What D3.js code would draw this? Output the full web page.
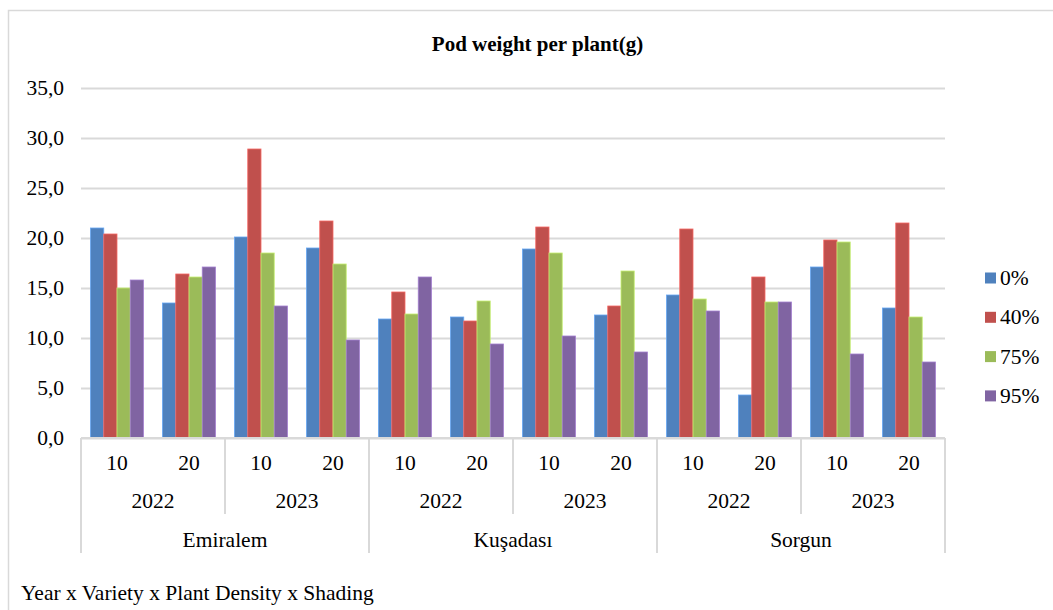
<!DOCTYPE html>
<html>
<head>
<meta charset="utf-8">
<script src="https://cdn.jsdelivr.net/npm/d3@7"></script>
<style>
  html, body { margin: 0; padding: 0; background: #fff; }
  svg { display: block; }
  svg text { font-family: "Liberation Serif", "Times New Roman", serif; }
</style>
</head>
<body>
<svg id="chart" width="1053" height="610" font-family="Liberation Serif, Times New Roman, serif"></svg>
<script>
// Category levels (outermost first)
const locations = ["Emiralem", "Kuşadası", "Sorgun"];
const years = ["2022", "2023"];
const densities = ["10", "20"];

// Shading treatments (series)
const shading = ["0%", "40%", "75%", "95%"];
const colors = ["#4F81BD", "#C0504D", "#9BBB59", "#8064A2"];

// Pod weight per plant (g), one value per location x year x density cluster
const shade0  = [21.0, 13.5, 20.1, 19.0, 11.9, 12.1, 18.9, 12.3, 14.3, 4.3, 17.1, 13.0];
const shade40 = [20.4, 16.4, 28.9, 21.7, 14.6, 11.7, 21.1, 13.2, 20.9, 16.1, 19.8, 21.5];
const shade75 = [15.0, 16.1, 18.5, 17.4, 12.4, 13.7, 18.5, 16.7, 13.9, 13.6, 19.6, 12.1];
const shade95 = [15.8, 17.1, 13.2, 9.8, 16.1, 9.4, 10.2, 8.6, 12.7, 13.6, 8.4, 7.6];
const series = [shade0, shade40, shade75, shade95];

const yTicks = [0, 5, 10, 15, 20, 25, 30, 35];

const FONT = "Liberation Serif, Times New Roman, serif";
const FS = 21.5;
const svg = d3.select("#chart");
const plot = { left: 81, right: 945, top: 88, bottom: 438 };
const gridColor = "#d9d9d9";

// Outer frame
svg.append("rect")
  .attr("x", 8.5).attr("y", 10.5)
  .attr("width", 1100).attr("height", 700)
  .attr("fill", "none").attr("stroke", gridColor).attr("stroke-width", 1.5);

// Title
svg.append("text")
  .attr("x", 537.5).attr("y", 51)
  .attr("text-anchor", "middle")
  .attr("font-family", FONT)
  .attr("font-size", 21).attr("font-weight", "bold")
  .text("Pod weight per plant(g)");

// Build flat list of clusters
const clusters = [];
locations.forEach(l => years.forEach(y => densities.forEach(d => clusters.push({ loc: l, year: y, dens: d, key: l + "|" + y + "|" + d }))));

const x = d3.scaleBand().domain(clusters.map(c => c.key)).range([plot.left, plot.right]).padding(0);
const xBar = d3.scaleBand().domain(shading).range([0, x.bandwidth()]).paddingInner(0).paddingOuter(0.72);
const y = d3.scaleLinear().domain([0, 35]).range([plot.bottom, plot.top]);

// Gridlines + y labels
const yAxis = d3.axisLeft(y).tickValues(yTicks)
  .tickSize(-(plot.right - plot.left)).tickPadding(17)
  .tickFormat(d => d3.format(".1f")(d).replace(".", ","));
const gy = svg.append("g").attr("transform", `translate(${plot.left},0)`).call(yAxis);
gy.attr("font-family", FONT);
gy.select(".domain").remove();
gy.selectAll(".tick line").attr("stroke", gridColor).attr("stroke-width", 2);
gy.selectAll(".tick text").attr("font-size", FS).attr("fill", "#000");

// Bars
series.forEach((vals, si) => {
  const base = d3.color(colors[si]);
  svg.append("g").selectAll("rect")
    .data(vals.map((v, i) => ({ v, c: clusters[i] })))
    .join("rect")
    .attr("x", d => x(d.c.key) + xBar(shading[si]))
    .attr("y", d => y(d.v))
    .attr("width", xBar.bandwidth())
    .attr("height", d => y(0) - y(d.v))
    .attr("fill", colors[si])
    .attr("stroke", base.brighter(0.7))
    .attr("stroke-width", 0.8);
});

// Category axis baseline
svg.append("line")
  .attr("x1", plot.left).attr("x2", plot.right)
  .attr("y1", plot.bottom).attr("y2", plot.bottom)
  .attr("stroke", gridColor).attr("stroke-width", 2);

// Multi-level category separators
const yearW = x.bandwidth() * densities.length;
const locW = yearW * years.length;
const sepG = svg.append("g").attr("stroke", gridColor).attr("stroke-width", 2);
d3.range(locations.length + 1).forEach(i => {
  const xx = plot.left + i * locW;
  sepG.append("line").attr("x1", xx).attr("x2", xx).attr("y1", plot.bottom).attr("y2", 553);
});
d3.range(locations.length).forEach(i => {
  const xx = plot.left + i * locW + yearW;
  sepG.append("line").attr("x1", xx).attr("x2", xx).attr("y1", plot.bottom).attr("y2", 514);
});

// Category labels
const lab = svg.append("g").attr("font-family", FONT).attr("font-size", FS)
  .attr("text-anchor", "middle").attr("dominant-baseline", "central");
clusters.forEach(c => {
  lab.append("text").attr("x", x(c.key) + x.bandwidth() / 2).attr("y", 463).text(c.dens);
});
locations.forEach((l, li) => {
  years.forEach((yr, yi) => {
    lab.append("text").attr("x", plot.left + li * locW + yi * yearW + yearW / 2).attr("y", 501).text(yr);
  });
  lab.append("text").attr("x", plot.left + li * locW + locW / 2).attr("y", 540).text(l);
});

// Footer caption
svg.append("text")
  .attr("x", 21).attr("y", 593)
  .attr("font-family", FONT)
  .attr("font-size", FS).attr("dominant-baseline", "central")
  .text("Year x Variety x Plant Density x Shading");

// Legend
const legend = svg.append("g").attr("font-family", FONT);
shading.forEach((s, i) => {
  const cy = 278 + i * 39.3;
  legend.append("rect").attr("x", 985).attr("y", cy - 5.5).attr("width", 11).attr("height", 11).attr("fill", colors[i]);
  legend.append("text").attr("x", 1000).attr("y", cy).attr("font-size", FS)
    .attr("dominant-baseline", "central").text(s);
});
</script>
</body>
</html>
